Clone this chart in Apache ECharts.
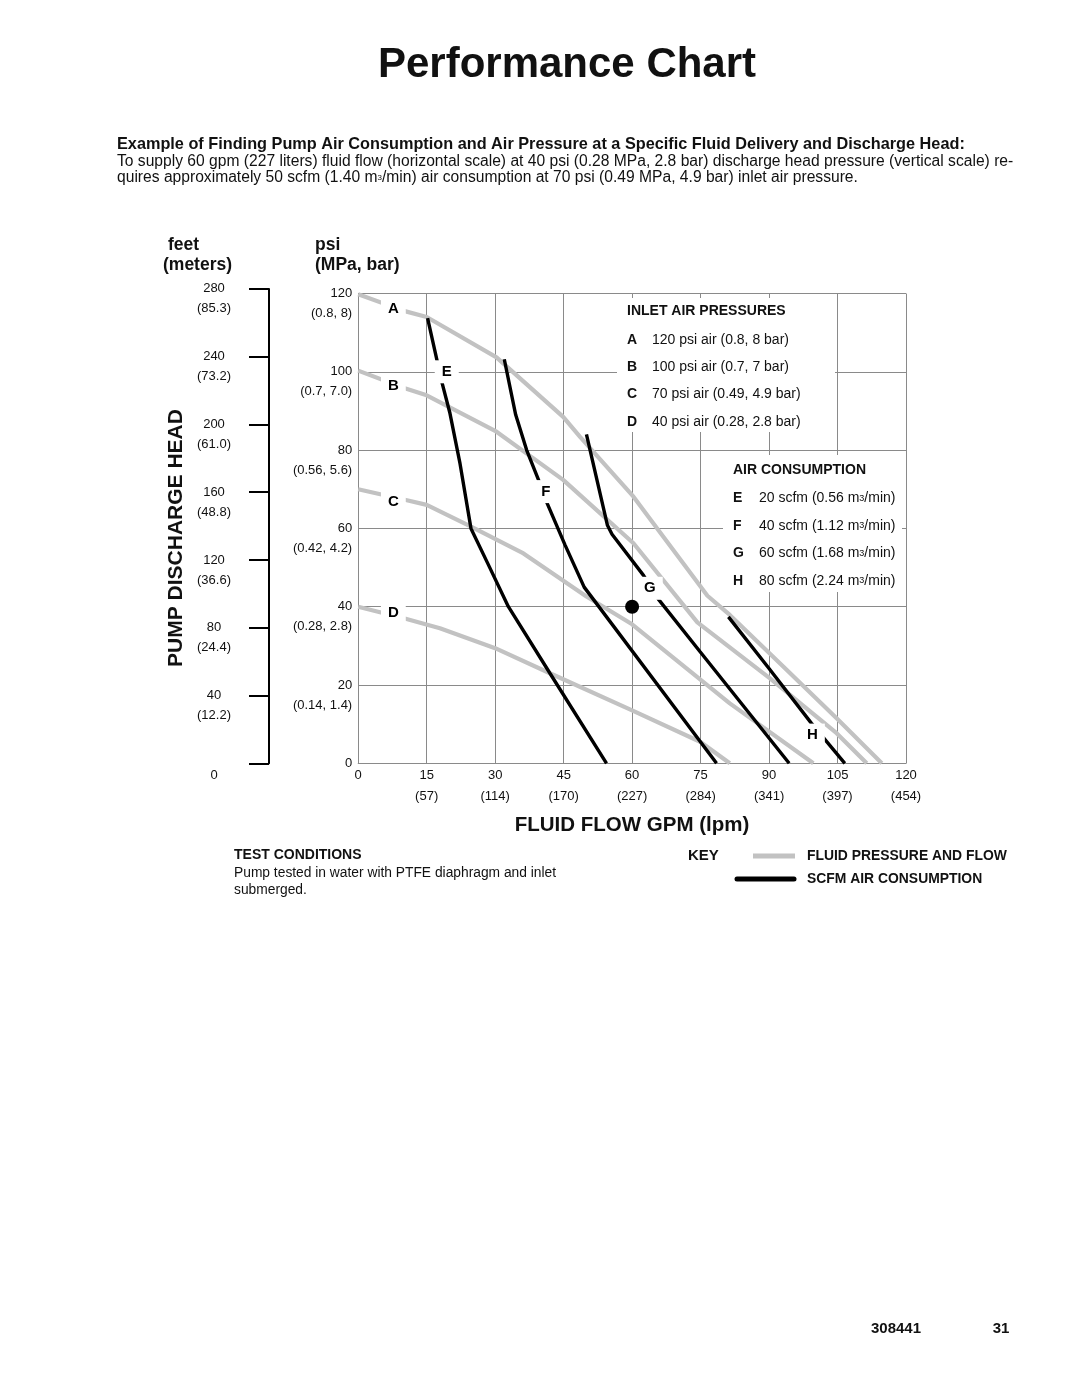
<!DOCTYPE html>
<html><head><meta charset="utf-8">
<script src="https://cdn.jsdelivr.net/npm/echarts/dist/echarts.min.js"></script>
<style>html,body{margin:0;padding:0;background:#fff}#c{width:1080px;height:1397px}</style>
</head><body><div id="c"></div>
<script>
const FONT = '"Liberation Sans", Arial, Helvetica, sans-serif';

// ---- tick labels ----
const gpmTicks = [0, 15, 30, 45, 60, 75, 90, 105, 120];
const lpmLabels = ['', '(57)', '(114)', '(170)', '(227)', '(284)', '(341)', '(397)', '(454)'];
const psiTicks = [0, 20, 40, 60, 80, 100, 120];
const psiMetric = ['', '(0.14, 1.4)', '(0.28, 2.8)', '(0.42, 4.2)', '(0.56, 5.6)', '(0.7, 7.0)', '(0.8, 8)'];
const feetTicks = [0, 40, 80, 120, 160, 200, 240, 280];
const meterLabels = ['', '(12.2)', '(24.4)', '(36.6)', '(48.8)', '(61.0)', '(73.2)', '(85.3)'];

// ---- fluid pressure curves [gpm, psi] at inlet air pressures ----
const curveA = [[0,119.8],[10.2,115.5],[15,114],[30.3,103.7],[44.9,88.5],[48.6,83.4],[60.3,68.1],[76.5,42.8],[81.4,37.9],[93.1,24.7],[104.8,11.5],[114.7,0]];
const curveB = [[0,100.3],[10.2,95.8],[15,94],[30.3,84.7],[44.9,72.4],[48.6,68.5],[60.3,56.2],[74.3,36],[90.2,21.7],[104.8,7.7],[111.4,0]];
const curveC = [[0,70],[10.2,67.3],[15,66],[24.5,60.6],[36.2,53.6],[50,42.6],[60,35.5],[81.4,15.3],[99.7,0]];
const curveD = [[0,40],[10.2,37],[17.9,34.5],[30,29.4],[42,23],[60,13.5],[74.9,5.5],[81.4,0]];

// ---- air consumption curves [gpm, psi] ----
const airE = [[15.2,113.7],[18.3,97.5],[20.1,89.4],[22.3,76.6],[24.7,60],[28.4,51],[32.9,40],[42,23],[54.4,0]];
const airF = [[32,103.2],[34.5,89],[36.9,80],[39.5,72.4],[41.4,66.4],[45.3,55.8],[49.5,45],[78.5,0]];
const airG = [[50,84],[54.6,60.8],[55.6,58.5],[62.5,48],[65.7,42],[74.9,28.5],[94.4,0]];
const airH = [[81.1,37.4],[90,24.2],[99.3,10.2],[106.6,0]];

// ---- curve letters ----
const fluidLetters = ['A', 'B', 'C', 'D'];
const fluidLetterPos = [[7.7,116],[7.7,96.4],[7.7,66.9],[7.7,38.5]];
const airLetters = ['E', 'F', 'G', 'H'];
const airLetterPos = [[19.4,100],[41.1,69.4],[63.9,44.7],[99.5,7.2]];

// example point
const examplePoint = [[60, 40]];

// legend texts
const inletRows = [['A','120 psi air (0.8, 8 bar)'],['B','100 psi air (0.7, 7 bar)'],['C','70 psi air (0.49, 4.9 bar)'],['D','40 psi air (0.28, 2.8 bar)']];
const airRows = [['E','20','(0.56'],['F','40','(1.12'],['G','60','(1.68'],['H','80','(2.24']];

const GRID_C = '#8a8a8a';
const GRAY = '#c2c2c2';
const TXT = '#111';

const mctx = document.createElement('canvas').getContext('2d');
function fitSize(text, size, weight, target) {
  mctx.font = (weight || 'normal') + ' ' + size + 'px ' + FONT;
  return size * target / mctx.measureText(text).width;
}

function T(x, y, text, size, weight, extra) {
  extra = extra || {};
  const st = Object.assign({
    text: text, fontSize: size, fontWeight: weight || 'normal', fontFamily: FONT,
    fill: extra.fill || TXT, align: extra.align || 'left', verticalAlign: 'middle',
    textAlign: extra.align || 'left', textVerticalAlign: 'middle'
  }, extra.style || {});
  const el = { type: 'text', x: x, y: y, z: 10, style: st, silent: true };
  if (extra.rotation) el.rotation = extra.rotation;
  return el;
}

const p2 = 'To supply 60 gpm (227 liters) fluid flow (horizontal scale) at 40 psi (0.28 MPa, 2.8 bar) discharge head pressure (vertical scale) re-';
const p1 = 'Example of Finding Pump Air Consumption and Air Pressure at a Specific Fluid Delivery and Discharge Head:';
const pSize = fitSize(p2, 14, 'normal', 897);
const p1Size = fitSize(p1, 14, 'bold', 849);

const graphics = [
  // legend boxes (white)
  { type: 'rect', z: 5, silent: true, shape: { x: 617, y: 298, width: 218, height: 134 }, style: { fill: '#fff' } },
  { type: 'rect', z: 5, silent: true, shape: { x: 723, y: 455, width: 179, height: 137 }, style: { fill: '#fff' } },
  T(567, 65, 'Performance Chart', 42, 'bold', { align: 'center' }),
  T(117, 144.5, p1, p1Size, 'bold'),
  T(117, 162, p2, pSize, 'normal'),
  T(117, 177.5, 'quires approximately 50 scfm (1.40 m{s|3}/min) air consumption at 70 psi (0.49 MPa, 4.9 bar) inlet air pressure.', pSize, 'normal',
    { style: { rich: { s: { fontSize: 8, fontFamily: FONT, fill: TXT } } } }),
  T(168, 245, 'feet', 17.5, 'bold'),
  T(163, 265, '(meters)', 17.5, 'bold'),
  T(315, 245, 'psi', 17.5, 'bold'),
  T(315, 265, '(MPa, bar)', 17.5, 'bold'),
  T(176, 538, 'PUMP DISCHARGE HEAD', 21, 'bold', { align: 'center', rotation: Math.PI / 2 }),
  T(627, 311.5, 'INLET AIR PRESSURES', 14, 'bold'),
  T(733, 470.5, 'AIR CONSUMPTION', 14, 'bold'),
  T(632, 825, 'FLUID FLOW GPM (lpm)', 20.5, 'bold', { align: 'center' }),
  T(234, 855, 'TEST CONDITIONS', 14, 'bold'),
  T(234, 873, 'Pump tested in water with PTFE diaphragm and inlet', 13.8, 'normal'),
  T(234, 890, 'submerged.', 13.8, 'normal'),
  T(688, 856, 'KEY', 15, 'bold'),
  T(807, 856, 'FLUID PRESSURE AND FLOW', 13.9, 'bold'),
  T(807, 879, 'SCFM AIR CONSUMPTION', 13.9, 'bold'),
  { type: 'line', z: 10, silent: true, shape: { x1: 753, y1: 856, x2: 795, y2: 856 }, style: { stroke: GRAY, lineWidth: 5 } },
  { type: 'line', z: 10, silent: true, shape: { x1: 737, y1: 879, x2: 794, y2: 879 }, style: { stroke: '#000', lineWidth: 5, lineCap: 'round' } },
  T(896, 1329, '308441', 15, 'bold', { align: 'center' }),
  T(1001, 1329, '31', 15, 'bold', { align: 'center' })
];
const rowYs1 = [340, 367.3, 394.3, 421.7];
inletRows.forEach((r, i) => {
  graphics.push(T(627, rowYs1[i], r[0], 14, 'bold'));
  graphics.push(T(652, rowYs1[i], r[1], 14, 'normal'));
});
const rowYs2 = [498.3, 525.7, 553.3, 581];
airRows.forEach((r, i) => {
  graphics.push(T(733, rowYs2[i], r[0], 14, 'bold'));
  graphics.push(T(759, rowYs2[i], r[1] + ' scfm ' + r[2] + ' m{s|3}/min)', 14, 'normal',
    { style: { rich: { s: { fontSize: 9, fontFamily: FONT, fill: TXT } } } }));
});

function lineSeries(data, color, width, z) {
  return { type: 'line', data: data, xAxisIndex: 0, yAxisIndex: 0, symbol: 'none', smooth: false, silent: true, z: z,
    lineStyle: { color: color, width: width, opacity: 1 }, animation: false };
}

const letterData = fluidLetterPos.map((p, i) => [p[0], p[1], fluidLetters[i]])
  .concat(airLetterPos.map((p, i) => [p[0], p[1], airLetters[i]]));

const option = {
  animation: false,
  backgroundColor: '#fff',
  grid: [
    { left: 358.2, top: 293.5, width: 547.8, height: 469.8, outerBoundsMode: 'none', containLabel: false },
    { left: 269, top: 288.9, width: 1, height: 474.4, outerBoundsMode: 'none', containLabel: false }
  ],
  xAxis: [
    { type: 'value', gridIndex: 0, min: 0, max: 120, interval: 15,
      axisLine: { show: true, lineStyle: { color: GRID_C, width: 1 } },
      axisTick: { show: false },
      splitLine: { show: true, lineStyle: { color: GRID_C, width: 1 } },
      axisLabel: { show: true, showMinLabel: true, showMaxLabel: true, margin: 2, color: TXT, fontFamily: FONT, fontSize: 13, hideOverlap: false,
        formatter: function (v) {
          const i = gpmTicks.indexOf(v);
          return (i > 0 && lpmLabels[i]) ? '{a|' + v + '}\n{a|' + lpmLabels[i] + '}' : '{a|' + v + '}';
        },
        rich: { a: { fontSize: 13, lineHeight: 21, fontFamily: FONT, color: TXT } } } },
    { type: 'value', gridIndex: 1, min: 0, max: 1, show: false }
  ],
  yAxis: [
    { type: 'value', gridIndex: 0, min: 0, max: 120, interval: 20,
      axisLine: { show: true, lineStyle: { color: GRID_C, width: 1 } },
      axisTick: { show: false },
      splitLine: { show: true, lineStyle: { color: GRID_C, width: 1 } },
      axisLabel: { show: true, showMinLabel: true, showMaxLabel: true, margin: 6, align: 'right', color: TXT, hideOverlap: false,
        formatter: function (v) {
          const i = psiTicks.indexOf(v);
          return (i > 0) ? '{e| }\n{a|' + v + '}\n{a|' + psiMetric[i] + '}' : '{a|' + v + '}';
        },
        rich: { e: { fontSize: 13, lineHeight: 20, fontFamily: FONT }, a: { fontSize: 13, lineHeight: 20, fontFamily: FONT, color: TXT, align: 'right' } } } },
    { type: 'value', gridIndex: 1, min: 0, max: 280, interval: 40, position: 'left',
      axisLine: { show: true, lineStyle: { color: '#000', width: 2 } },
      axisTick: { show: true, length: 20, inside: false, lineStyle: { color: '#000', width: 2 } },
      splitLine: { show: false },
      axisLabel: { show: true, showMinLabel: true, showMaxLabel: true, margin: 55, align: 'center', color: TXT, hideOverlap: false,
        formatter: function (v) {
          const i = feetTicks.indexOf(v);
          return (i > 0) ? '{e| }\n{a|' + v + '}\n{a|' + meterLabels[i] + '}' : '{f| }\n{a|0}';
        },
        rich: { e: { fontSize: 13, lineHeight: 20, fontFamily: FONT }, f: { fontSize: 13, lineHeight: 24, fontFamily: FONT },
          a: { fontSize: 13, lineHeight: 20, fontFamily: FONT, color: TXT, align: 'center' } } } }
  ],
  graphic: { elements: graphics },
  series: [
    lineSeries(curveA, GRAY, 4.2, 2),
    lineSeries(curveB, GRAY, 4.2, 2),
    lineSeries(curveC, GRAY, 4.2, 2),
    lineSeries(curveD, GRAY, 4.2, 2),
    lineSeries(airE, '#000', 3.4, 3),
    lineSeries(airF, '#000', 3.4, 3),
    lineSeries(airG, '#000', 3.4, 3),
    lineSeries(airH, '#000', 3.4, 3),
    { type: 'scatter', data: letterData, xAxisIndex: 0, yAxisIndex: 0, z: 6, silent: true,
      symbol: 'rect', symbolSize: 1, itemStyle: { color: 'rgba(255,255,255,0)', opacity: 1 },
      label: { show: true, position: 'inside', formatter: p => p.value[2], fontFamily: FONT, fontSize: 15, fontWeight: 'bold',
        color: '#000', opacity: 1, textBorderWidth: 0, backgroundColor: '#fff', padding: [4, 7] } },
    { type: 'scatter', data: examplePoint, xAxisIndex: 0, yAxisIndex: 0, z: 7, silent: true,
      symbol: 'circle', symbolSize: 14, itemStyle: { color: '#000', opacity: 1 } }
  ]
};
const chart = echarts.init(document.getElementById('c'));
chart.setOption(option);
</script>
</body></html>
